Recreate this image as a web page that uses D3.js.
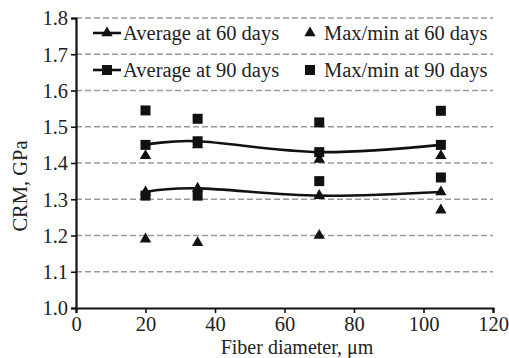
<!DOCTYPE html>
<html>
<head>
<meta charset="utf-8">
<script src="https://cdn.jsdelivr.net/npm/d3@7"></script>
<style>
  body { margin: 0; background: #fff; }
  text { font-family: "Liberation Serif", "DejaVu Serif", serif; fill: #222; }
</style>
</head>
<body>
<div id="chart"></div>
<script>
// fiber diameters (um)
const diameters = [20, 35, 70, 105];
const avg60 = [1.32, 1.33, 1.31, 1.32];
const avg90 = [1.45, 1.46, 1.43, 1.45];
const max60 = [1.42, 1.45, 1.41, 1.42];
const min60 = [1.19, 1.18, 1.20, 1.27];
const max90 = [1.545, 1.522, 1.512, 1.544];
const min90 = [1.31, 1.31, 1.35, 1.36];
const xTicks = [0, 20, 40, 60, 80, 100, 120];
const yTicks = [1.0, 1.1, 1.2, 1.3, 1.4, 1.5, 1.6, 1.7, 1.8];

const width = 509, height = 358;
const margin = { top: 18, right: 16, bottom: 50, left: 76 };
const fs = '20.5px';

const svg = d3.select('#chart').append('svg')
    .attr('width', width)
    .attr('height', height);

const x = d3.scaleLinear().domain([0, 120]).range([margin.left, width - margin.right]);
const y = d3.scaleLinear().domain([1.0, 1.8]).range([height - margin.bottom, margin.top]);

// dashed grid
svg.append('g')
    .selectAll('line')
    .data(yTicks.filter(d => d > 1.0))
    .enter()
    .append('line')
    .attr('x1', x(0))
    .attr('x2', x(120))
    .attr('y1', d => y(d))
    .attr('y2', d => y(d))
    .attr('stroke', '#9a9a9a')
    .attr('stroke-width', 1.4)
    .attr('stroke-dasharray', '6,3');

const xAxis = svg.append('g')
    .attr('transform', `translate(0,${y(1.0)})`)
    .call(d3.axisBottom(x).tickValues(xTicks).tickSize(5).tickPadding(3).tickFormat(d3.format('d')));

const yAxis = svg.append('g')
    .attr('transform', `translate(${x(0)},0)`)
    .call(d3.axisLeft(y).tickValues(yTicks).tickSize(5).tickPadding(3).tickFormat(d3.format('.1f')));

[xAxis, yAxis].forEach(a => {
    a.select('.domain').attr('stroke', '#111').attr('stroke-width', 2.2);
    a.selectAll('.tick line').attr('stroke', '#111').attr('stroke-width', 1.6);
    a.selectAll('.tick text').style('font-family', '"Liberation Serif", serif')
        .style('font-size', fs).attr('fill', '#222');
});
yAxis.selectAll('.tick text').attr('dy', '0.33em');

// axis titles
svg.append('text')
    .attr('x', 297)
    .attr('y', 354)
    .attr('text-anchor', 'middle')
    .style('font-size', '20px')
    .text('Fiber diameter, μm');

svg.append('text')
    .attr('transform', 'translate(27,186) rotate(-90)')
    .attr('text-anchor', 'middle')
    .style('font-size', fs)
    .text('CRM, GPa');

const tri = d3.symbol().type(d3.symbolTriangle).size(56);
const sq = d3.symbol().type(d3.symbolSquare).size(100);

const line = d3.line()
    .x(d => x(d[0]))
    .y(d => y(d[1]))
    .curve(d3.curveCatmullRom.alpha(0));

function drawMarkers(xs, ys, sym) {
    svg.append('g')
        .selectAll('path')
        .data(xs.map((d, i) => [d, ys[i]]))
        .enter()
        .append('path')
        .attr('d', sym)
        .attr('transform', d => `translate(${x(d[0])},${y(d[1])})`)
        .attr('fill', '#111');
}

// max / min markers
drawMarkers(diameters, max90, sq);
drawMarkers(diameters, min90, sq);
drawMarkers(diameters, max60, tri);
drawMarkers(diameters, min60, tri);

// average lines
[[avg90, sq], [avg60, tri]].forEach(([vals, sym]) => {
    svg.append('path')
        .datum(diameters.map((d, i) => [d, vals[i]]))
        .attr('d', line)
        .attr('fill', 'none')
        .attr('stroke', '#111')
        .attr('stroke-width', 2.6);
    drawMarkers(diameters, vals, sym);
});

// legend
const legendItems = [
    { label: 'Average at 60 days', sym: tri, line: true, lx: 93, ly: 33 },
    { label: 'Average at 90 days', sym: sq, line: true, lx: 93, ly: 70 },
    { label: 'Max/min at 60 days', sym: tri, line: false, lx: 302, ly: 33 },
    { label: 'Max/min at 90 days', sym: sq, line: false, lx: 302, ly: 70 },
];
const legend = svg.append('g');
legendItems.forEach(it => {
    const g = legend.append('g').attr('transform', `translate(${it.lx},${it.ly})`);
    if (it.line) {
        g.append('line')
            .attr('x1', 0).attr('x2', 28)
            .attr('stroke', '#111').attr('stroke-width', 2.6);
        g.append('path').attr('d', it.sym).attr('transform', 'translate(14,0)').attr('fill', '#111');
        g.append('text').attr('x', 30).attr('dy', '0.33em').style('font-size', '20.5px').text(it.label);
    } else {
        g.append('path').attr('d', it.sym).attr('transform', 'translate(8,0)').attr('fill', '#111');
        g.append('text').attr('x', 22).attr('dy', '0.33em').style('font-size', '20.5px').text(it.label);
    }
});
</script>
</body>
</html>
